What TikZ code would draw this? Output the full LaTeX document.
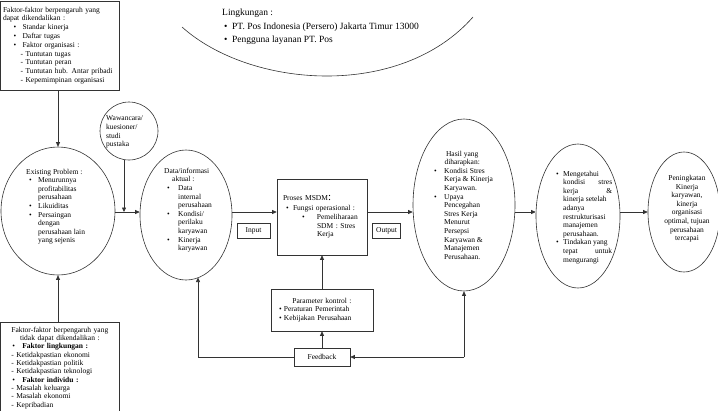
\documentclass[tikz,border=0pt]{standalone}
\usepackage{fontspec}
\setmainfont{Liberation Serif}
\usetikzlibrary{shapes.geometric}
\usetikzlibrary{arrows.meta}

\newcommand{\bul}[2][0bp]{\hspace*{#1}\makebox[#2][l]{\textbullet}}
\newcommand{\ind}[1][9bp]{\hspace*{#1}}

\begin{document}
\begin{tikzpicture}[x=1bp,y=-1bp,
  every node/.style={font=\fontsize{7.5bp}{8.6bp}\selectfont},
  oval/.style={draw=black!80,ellipse,line width=0.6bp,inner sep=0pt},
  bx/.style={draw=black!80,rectangle,line width=0.6bp},
  lbl/.style={align=left,inner sep=0pt,anchor=west},
  conn/.style={draw=black!80,line width=0.7bp,-{Triangle[length=4.5bp,width=4bp]}}]
 \useasboundingbox (0,0) rectangle (718,410);
 % faktor luar
 \node[bx,anchor=north west,minimum width=118.5bp,minimum height=89.5bp,text width=114bp,inner xsep=2bp,align=left,font=\fontsize{7.5bp}{8.8bp}\selectfont] (ctrl) at (0.5,0.5) {Faktor-faktor berpengaruh yang\\ dapat dikendalikan :\\ \bul[10.5bp]{9bp}Standar kinerja\\ \bul[10.5bp]{9bp}Daftar tugas\\ \bul[10.5bp]{9bp}Faktor organisasi :\\ \ind[17.5bp]- Tuntutan tugas\\ \ind[17.5bp]- Tuntutan peran\\ \ind[17.5bp]- Tuntutan hub. Antar pribadi\\ \ind[17.5bp]- Kepemimpinan organisasi};
 \node[bx,anchor=north west,text width=114bp,inner xsep=2bp,inner ysep=4.5bp,align=left,font=\fontsize{7.5bp}{8.35bp}\selectfont] (unctrl) at (0.5,322) {\makebox[114bp]{Faktor-faktor berpengaruh yang}\\ \makebox[114bp]{tidak dapat dikendalikan :}\\ \bul[9.5bp]{10bp}\textbf{Faktor lingkungan :}\\ \ind[8.5bp]- Ketidakpastian ekonomi\\ \ind[8.5bp]- Ketidakpastian politik\\ \ind[8.5bp]- Ketidakpastian teknologi\\ \bul[9.5bp]{10bp}\textbf{Faktor individu :}\\ \ind[8.5bp]- Masalah keluarga\\ \ind[8.5bp]- Masalah ekonomi\\ \ind[8.5bp]- Kepribadian};
 % elips
 \node[oval,minimum width=114bp,minimum height=128bp] (existing) at (58,211) {};
 \node[oval,minimum width=58bp,minimum height=58bp] (wawan) at (129,131) {};
 \node[oval,minimum width=92bp,minimum height=130bp] (data) at (186,215) {};
 \node[oval,minimum width=102bp,minimum height=172bp] (hasil) at (464,205) {};
 \node[oval,minimum width=84bp,minimum height=144bp] (tahu) at (578,216) {};
 \node[oval,minimum width=72bp,minimum height=120bp] (tingkat) at (684,212) {};
 \node[lbl] (existingtxt) at (26,206.7) {Existing Problem :\\ \bul[3bp]{9bp}Menurunnya\\ \ind[12bp]profitabilitas\\ \ind[12bp]perusahaan\\ \bul[3bp]{9bp}Likuiditas\\ \bul[3bp]{9bp}Persaingan\\ \ind[12bp]dengan\\ \ind[12bp]perusahaan lain\\ \ind[12bp]yang sejenis};
 \node[lbl] (wawantxt) at (106,132.2) {Wawancara/\\ kuesioner/\\ studi\\ pustaka};
 \node[lbl] (datatxt) at (164,210.2) {Data/informasi\\ \ind[8bp]aktual :\\ \bul[3bp]{11bp}Data\\ \ind[14bp]internal\\ \ind[14bp]perusahaan\\ \bul[3bp]{11bp}Kondisi/\\ \ind[14bp]perilaku\\ \ind[14bp]karyawan\\ \bul[3bp]{11bp}Kinerja\\ \ind[14bp]karyawan};
 \node[lbl] (hasiltxt) at (434,205.2) {\makebox[56bp]{Hasil yang}\\ \makebox[56bp]{diharapkan:}\\ \bul{10bp}Kondisi Stres\\ \ind[10bp]Kerja \& Kinerja\\ \ind[10bp]Karyawan.\\ \bul{10bp}Upaya\\ \ind[10bp]Pencegahan\\ \ind[10bp]Stres Kerja\\ \ind[10bp]Menurut\\ \ind[10bp]Persepsi\\ \ind[10bp]Karyawan \&\\ \ind[10bp]Manajemen\\ \ind[10bp]Perusahaan.};
 \node[lbl] (tahutxt) at (556,217.2) {\bul{7bp}Mengetahui\\ \ind[7bp]\hbox to 49bp{kondisi\hfill stres}\\ \ind[7bp]\hbox to 49bp{kerja\hfill\&}\\ \ind[7bp]kinerja setelah\\ \ind[7bp]adanya\\ \ind[7bp]restrukturisasi\\ \ind[7bp]manajemen\\ \ind[7bp]perusahaan.\\ \bul{7bp}Tindakan yang\\ \ind[7bp]\hbox to 49bp{tepat\hfill untuk}\\ \ind[7bp]mengurangi};
 \node[align=center,inner sep=0pt] (tingkattxt) at (687,208.7) {Peningkatan\\ Kinerja\\ karyawan,\\ kinerja\\ organisasi\\ optimal, tujuan\\ perusahaan\\ tercapai};
 % kotak proses
 \node[bx,minimum width=90bp,minimum height=76bp,text width=78bp,inner xsep=6bp,align=left] (proses) at (322,217) {Proses MSDM{\fontsize{11bp}{8bp}\selectfont:}\\[1.5bp] \bul[3bp]{7bp}Fungsi operasional :\\ \bul[19bp]{15bp}Pemeliharaan\\ \ind[34bp]SDM : Stres\\ \ind[34bp]Kerja};
 \node[bx,minimum width=33bp,minimum height=15bp] (input) at (253.5,230.5) {Input};
 \node[bx,minimum width=27bp,minimum height=15bp] (output) at (386.5,230.5) {Output};
 \node[bx,minimum width=102bp,minimum height=42bp,text width=94bp,inner xsep=4bp,align=left] (param) at (322,310) {\makebox[94bp]{Parameter kontrol :}\\ \bul[4bp]{5bp}Peraturan Pemerintah\\ \bul[4bp]{5bp}Kebijakan Perusahaan};
 \node[bx,minimum width=56bp,minimum height=18bp] (feedback) at (322,357) {Feedback};
 % lingkungan
 \draw[draw=black!80,line width=0.6bp] (182,27) .. controls (250,88) and (400,100) .. (473,17);
 \node[lbl,font=\fontsize{9.5bp}{13.5bp}\selectfont] (lingtxt) at (222,26.8) {Lingkungan :\\ \bul[2bp]{8bp}PT. Pos Indonesia (Persero) Jakarta Timur 13000\\ \bul[2bp]{8bp}Pengguna layanan PT. Pos};
 % panah
 \coordinate (lvl) at (124,212);
 \coordinate (datafoot) at (198,277.5);
 \draw[conn] (existing.north |- ctrl.south) -- (existing.north);
 \draw[conn] (existing.south |- unctrl.north) -- (existing.south);
 \draw[conn] (existing.east |- lvl) -- (data.west |- lvl);
 \draw[conn] (wawan.south -| lvl) -- (lvl);
 \draw[conn] (data.east |- lvl) -- (proses.west |- lvl);
 \draw[conn] (proses.east |- lvl) -- (hasil.west |- lvl);
 \draw[conn] (hasil.east |- lvl) -- (tahu.west |- lvl);
 \draw[conn] (tahu.east |- lvl) -- (tingkat.west |- lvl);
 \draw[conn] (param.north) -- (proses.south);
 \draw[conn] (feedback.north) -- (param.south);
 \draw[conn] (feedback.west) -| (datafoot);
 \draw[conn] (hasil.south |- feedback.east) -- (feedback.east);
 \draw[conn] (hasil.south |- feedback.east) -- (hasil.south);
\end{tikzpicture}
\end{document}
